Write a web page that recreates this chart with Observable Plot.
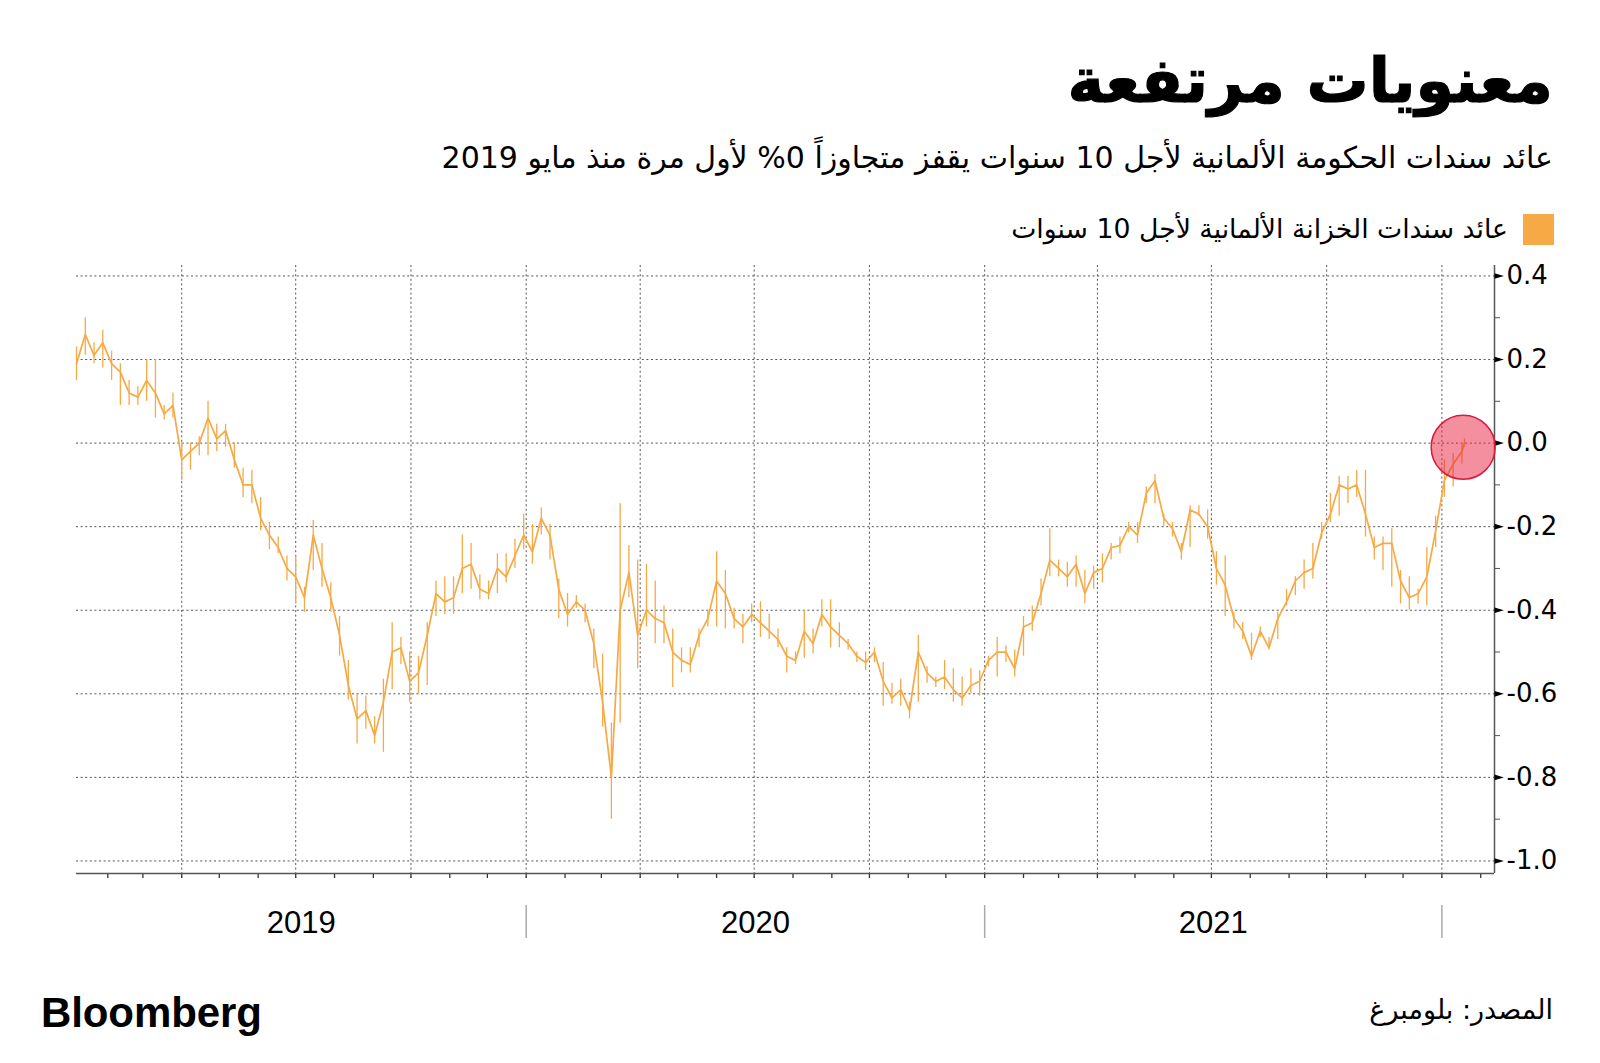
<!DOCTYPE html>
<html>
<head>
<meta charset="utf-8">
<script src="https://cdn.jsdelivr.net/npm/d3@7"></script>
<script src="https://cdn.jsdelivr.net/npm/@observablehq/plot@0.6"></script>
<style>
html,body{margin:0;padding:0;background:#fff;}
#page{position:relative;width:1600px;height:1063px;overflow:hidden;background:#fff;}
.ar{position:absolute;right:47px;direction:rtl;font-family:"DejaVu Sans",sans-serif;color:#000;white-space:nowrap;line-height:1;}
#title{top:50px;font-size:62px;font-weight:bold;-webkit-text-stroke:1.2px #000;}
#subtitle{top:143px;font-size:30px;}
#legend{top:214px;right:46px;display:flex;align-items:center;gap:15px;}
#legend .sw{width:31px;height:31px;background:#F6A945;}
#legend span{font-size:26.7px;}
#chart{position:absolute;left:0;top:255px;}
#brand{position:absolute;left:41px;top:992px;font-family:"Liberation Sans",Arial,sans-serif;font-weight:bold;font-size:42px;letter-spacing:-0.1px;line-height:1;color:#000;}
#source{top:996px;font-size:27px;}
</style>
</head>
<body>
<div id="page">
  <div id="title" class="ar">معنويات مرتفعة</div>
  <div id="subtitle" class="ar">عائد سندات الحكومة الألمانية لأجل 10 سنوات يقفز متجاوزاً 0% لأول مرة منذ مايو 2019</div>
  <div id="legend" class="ar"><div class="sw"></div><span>عائد سندات الخزانة الألمانية لأجل 10 سنوات</span></div>
  <div id="chart"></div>
  <div id="brand">Bloomberg</div>
  <div id="source" class="ar">المصدر: بلومبرغ</div>
</div>
<script>
// ---- Data (weekly readings of the German 10-year Bund yield, %) ----
const dates = [
"2019-01-07","2019-01-14","2019-01-21","2019-01-28","2019-02-04","2019-02-11","2019-02-18","2019-02-25","2019-03-04","2019-03-11","2019-03-18","2019-03-25",
"2019-04-01","2019-04-08","2019-04-15","2019-04-22","2019-04-29","2019-05-06","2019-05-13","2019-05-20","2019-05-27","2019-06-03","2019-06-10","2019-06-17","2019-06-24",
"2019-07-01","2019-07-08","2019-07-15","2019-07-22","2019-07-29","2019-08-05","2019-08-12","2019-08-19","2019-08-26","2019-09-02","2019-09-09","2019-09-16","2019-09-23","2019-09-30",
"2019-10-07","2019-10-14","2019-10-21","2019-10-28","2019-11-04","2019-11-11","2019-11-18","2019-11-25","2019-12-02","2019-12-09","2019-12-16","2019-12-23","2019-12-30",
"2020-01-06","2020-01-13","2020-01-20","2020-01-27","2020-02-03","2020-02-10","2020-02-17","2020-02-24","2020-03-02","2020-03-09","2020-03-16","2020-03-23","2020-03-30",
"2020-04-06","2020-04-13","2020-04-20","2020-04-27","2020-05-04","2020-05-11","2020-05-18","2020-05-25","2020-06-01","2020-06-08","2020-06-15","2020-06-22","2020-06-29",
"2020-07-06","2020-07-13","2020-07-20","2020-07-27","2020-08-03","2020-08-10","2020-08-17","2020-08-24","2020-08-31","2020-09-07","2020-09-14","2020-09-21","2020-09-28",
"2020-10-05","2020-10-12","2020-10-19","2020-10-26","2020-11-02","2020-11-09","2020-11-16","2020-11-23","2020-11-30","2020-12-07","2020-12-14","2020-12-21","2020-12-28",
"2021-01-04","2021-01-11","2021-01-18","2021-01-25","2021-02-01","2021-02-08","2021-02-15","2021-02-22","2021-03-01","2021-03-08","2021-03-15","2021-03-22","2021-03-29",
"2021-04-05","2021-04-12","2021-04-19","2021-04-26","2021-05-03","2021-05-10","2021-05-17","2021-05-24","2021-05-31","2021-06-07","2021-06-14","2021-06-21","2021-06-28",
"2021-07-05","2021-07-12","2021-07-19","2021-07-26","2021-08-02","2021-08-09","2021-08-16","2021-08-23","2021-08-30","2021-09-06","2021-09-13","2021-09-20","2021-09-27",
"2021-10-04","2021-10-11","2021-10-18","2021-10-25","2021-11-01","2021-11-08","2021-11-15","2021-11-22","2021-11-29","2021-12-06","2021-12-13","2021-12-20","2021-12-27",
"2022-01-03","2022-01-10","2022-01-17","2022-01-19"
];
const yields = [
0.19,0.26,0.21,0.24,0.19,0.17,0.12,0.11,0.15,0.12,0.07,0.09,
-0.04,-0.02,0.00,0.06,0.01,0.03,-0.04,-0.10,-0.10,-0.18,-0.22,-0.25,-0.30,
-0.32,-0.37,-0.22,-0.30,-0.37,-0.46,-0.58,-0.66,-0.64,-0.70,-0.62,-0.50,-0.49,-0.57,
-0.55,-0.46,-0.36,-0.38,-0.37,-0.30,-0.29,-0.35,-0.36,-0.30,-0.32,-0.27,-0.22,
-0.26,-0.18,-0.22,-0.35,-0.41,-0.38,-0.40,-0.48,-0.62,-0.80,-0.40,-0.31,-0.46,
-0.40,-0.42,-0.43,-0.50,-0.52,-0.53,-0.46,-0.42,-0.33,-0.36,-0.42,-0.44,-0.41,
-0.43,-0.45,-0.47,-0.51,-0.52,-0.45,-0.48,-0.41,-0.44,-0.46,-0.48,-0.51,-0.525,
-0.50,-0.57,-0.61,-0.59,-0.64,-0.50,-0.55,-0.57,-0.56,-0.59,-0.61,-0.58,-0.57,
-0.52,-0.50,-0.50,-0.54,-0.44,-0.43,-0.36,-0.28,-0.30,-0.32,-0.29,-0.36,-0.31,
-0.30,-0.25,-0.245,-0.20,-0.22,-0.12,-0.09,-0.18,-0.205,-0.26,-0.16,-0.17,-0.20,
-0.30,-0.34,-0.42,-0.45,-0.51,-0.45,-0.49,-0.42,-0.38,-0.33,-0.31,-0.30,-0.215,
-0.17,-0.10,-0.11,-0.10,-0.17,-0.25,-0.24,-0.24,-0.33,-0.37,-0.36,-0.32,-0.21,
-0.09,-0.05,-0.02,0.00
];
const weekLow = [
0.15,0.21,0.19,0.18,0.15,0.09,0.09,0.09,0.10,0.06,0.055,0.06,
-0.09,-0.065,-0.03,-0.03,-0.02,-0.01,-0.06,-0.13,-0.145,-0.21,-0.255,-0.265,-0.33,
-0.385,-0.405,-0.305,-0.345,-0.405,-0.51,-0.615,-0.72,-0.685,-0.72,-0.74,-0.59,-0.53,-0.62,
-0.60,-0.58,-0.415,-0.41,-0.41,-0.36,-0.35,-0.375,-0.375,-0.36,-0.335,-0.30,-0.255,
-0.29,-0.22,-0.28,-0.42,-0.44,-0.395,-0.43,-0.54,-0.68,-0.90,-0.67,-0.37,-0.54,
-0.44,-0.48,-0.48,-0.585,-0.55,-0.55,-0.49,-0.44,-0.44,-0.445,-0.445,-0.48,-0.43,
-0.465,-0.47,-0.49,-0.55,-0.53,-0.515,-0.505,-0.44,-0.49,-0.49,-0.495,-0.525,-0.545,
-0.525,-0.63,-0.625,-0.63,-0.66,-0.62,-0.575,-0.585,-0.59,-0.62,-0.63,-0.60,-0.605,
-0.535,-0.56,-0.525,-0.56,-0.51,-0.45,-0.39,-0.32,-0.32,-0.345,-0.345,-0.385,-0.35,
-0.335,-0.28,-0.265,-0.215,-0.24,-0.145,-0.145,-0.20,-0.225,-0.28,-0.25,-0.175,-0.23,
-0.34,-0.415,-0.445,-0.47,-0.52,-0.465,-0.495,-0.47,-0.39,-0.365,-0.35,-0.325,-0.23,
-0.19,-0.175,-0.145,-0.13,-0.225,-0.28,-0.305,-0.345,-0.385,-0.40,-0.385,-0.39,-0.25,
-0.13,-0.105,-0.05,-0.01
];
const weekHigh = [
0.23,0.30,0.24,0.27,0.22,0.19,0.15,0.135,0.20,0.20,0.09,0.12,
0.00,0.00,0.015,0.10,0.045,0.045,0.00,-0.06,-0.065,-0.13,-0.19,-0.225,-0.27,
-0.27,-0.345,-0.185,-0.24,-0.335,-0.415,-0.52,-0.60,-0.605,-0.655,-0.565,-0.43,-0.465,-0.50,
-0.51,-0.43,-0.33,-0.32,-0.32,-0.22,-0.24,-0.315,-0.33,-0.265,-0.265,-0.23,-0.17,
-0.195,-0.155,-0.195,-0.325,-0.36,-0.365,-0.385,-0.445,-0.505,-0.67,-0.145,-0.245,-0.28,
-0.29,-0.33,-0.39,-0.445,-0.49,-0.49,-0.445,-0.40,-0.26,-0.305,-0.395,-0.41,-0.385,
-0.38,-0.41,-0.445,-0.49,-0.50,-0.40,-0.445,-0.375,-0.375,-0.43,-0.47,-0.50,-0.50,
-0.49,-0.525,-0.575,-0.565,-0.62,-0.46,-0.535,-0.56,-0.52,-0.54,-0.56,-0.54,-0.545,
-0.51,-0.465,-0.485,-0.495,-0.415,-0.39,-0.325,-0.205,-0.28,-0.285,-0.27,-0.305,-0.295,
-0.265,-0.24,-0.225,-0.19,-0.19,-0.105,-0.075,-0.17,-0.19,-0.24,-0.15,-0.15,-0.16,
-0.26,-0.27,-0.405,-0.43,-0.455,-0.44,-0.465,-0.405,-0.35,-0.32,-0.28,-0.24,-0.19,
-0.12,-0.08,-0.08,-0.065,-0.065,-0.225,-0.225,-0.205,-0.305,-0.32,-0.35,-0.25,-0.175,
-0.04,-0.025,0.00,0.01
];
// highlighted latest reading (red circle)
const highlightDate = "2022-01-18";
const highlightValue = -0.01;

// axis / tick definitions
const xDomain = ["2019-01-07", "2022-02-12"];
const yDomain = [-1.03, 0.425];
const yMajorTicks = [0.4, 0.2, 0.0, -0.2, -0.4, -0.6, -0.8, -1.0];
const yMinorTicks = [0.3, 0.1, -0.1, -0.3, -0.5, -0.7, -0.9];
const yearLabels = ["2019", "2020", "2021"];
const yearBoundaries = ["2020-01-01", "2021-01-01", "2022-01-01"];

// ---- Build ----
const orange = "#F6A945";
const series = dates.map((d, i) => ({date: new Date(d), y: yields[i], lo: weekLow[i], hi: weekHigh[i]}));
const x0 = new Date(xDomain[0]), x1 = new Date(xDomain[1]);
const monthTicks = d3.utcMonth.range(x0, x1);
const quarterTicks = d3.utcMonth.every(3).range(x0, x1);
const yearMid = yearLabels.map(y => {
  const a = Math.max(+x0, +new Date(y + "-01-01"));
  const b = Math.min(+x1, +new Date((+y + 1) + "-01-01"));
  return new Date((a + b) / 2);
});
const triangleRight = {
  draw(ctx, size) {
    const h = Math.sqrt(size / Math.PI);
    ctx.moveTo(-h, -h * 0.6);
    ctx.lineTo(h, 0);
    ctx.lineTo(-h, h * 0.6);
    ctx.closePath();
  }
};
const grid = {stroke: "#555", strokeOpacity: 1, strokeWidth: 1, strokeDasharray: "2,2.6"};

const chart = Plot.plot({
  width: 1600,
  height: 705,
  marginTop: 10,
  marginBottom: 87,
  marginLeft: 76,
  marginRight: 106,
  x: {type: "utc", domain: [x0, x1], axis: null},
  y: {domain: yDomain, axis: null},
  style: {fontFamily: "DejaVu Sans, sans-serif", background: "white", color: "#000", overflow: "visible"},
  marks: [
    Plot.gridY(yMajorTicks, grid),
    Plot.gridX(quarterTicks, {...grid, insetBottom: -5}),
    Plot.axisX(monthTicks, {anchor: "bottom", tickSize: 5, tickFormat: () => "", label: null, stroke: "#333", strokeWidth: 1.3}),
    Plot.ruleY([yDomain[0]], {stroke: "#555", strokeWidth: 1.5}),
    Plot.ruleX([x1], {stroke: "#555", strokeWidth: 1.5}),
    Plot.axisY(yMinorTicks, {anchor: "right", tickSize: 5, tickFormat: () => "", label: null, stroke: "#555"}),
    Plot.dot(yMajorTicks, {x: () => x1, y: d => d, symbol: triangleRight, r: 4.7, dx: 4.7, fill: "#000", stroke: null}),
    Plot.axisY(yMajorTicks, {anchor: "right", tickSize: 0, tickPadding: 12, tickFormat: d => d.toFixed(1), label: null, fontSize: 26, fill: "#000"}),
    Plot.ruleX(series, {x: "date", y1: "lo", y2: "hi", stroke: orange, strokeWidth: 1.3}),
    Plot.line(series, {x: "date", y: "y", stroke: orange, strokeWidth: 1.7}),
    Plot.dot([{date: new Date(highlightDate), y: highlightValue}], {x: "date", y: "y", r: 32, fill: "#e8203f", fillOpacity: 0.5, stroke: "#d81b3f", strokeWidth: 1.5}),
    Plot.ruleX(yearBoundaries.map(d => new Date(d)), {stroke: "#aaa", strokeWidth: 1.5, insetTop: 640, insetBottom: -65}),
    Plot.text(yearLabels, {x: (d, i) => yearMid[i], y: () => yDomain[0], dy: 50, text: d => d, fontSize: 31, fontFamily: "Liberation Sans Narrow, Liberation Sans, sans-serif", fill: "#000"})
  ]
});
document.getElementById("chart").appendChild(chart);
</script>
</body>
</html>
